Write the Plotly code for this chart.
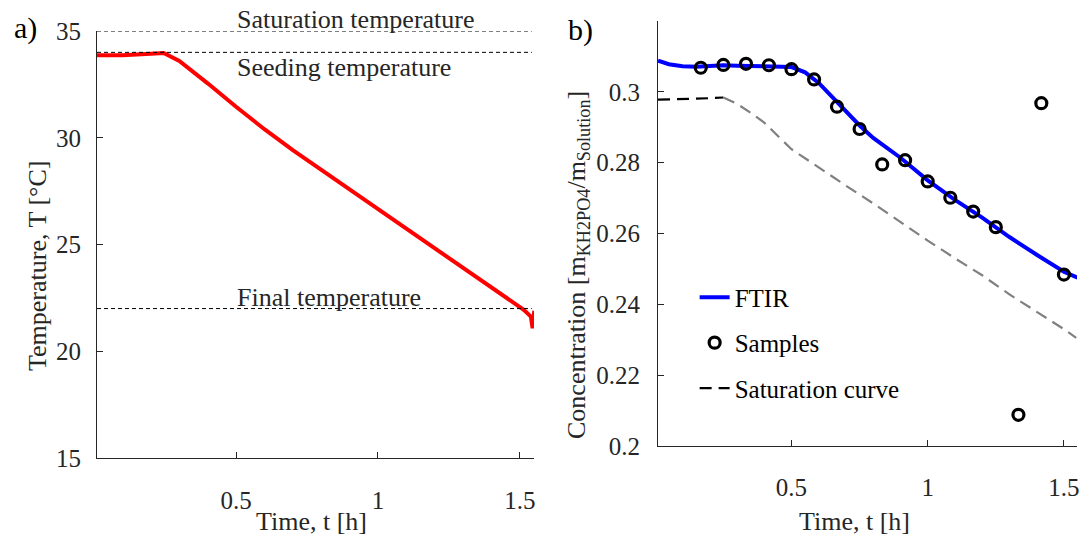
import plotly.graph_objects as go

# a) temperature profile, t [h] / T [°C]
temp_t = [0.01, 0.1, 0.2, 0.245, 0.3, 0.35, 0.4, 0.5, 0.6, 0.7, 0.8, 0.9, 1.0, 1.1,
          1.2, 1.3, 1.4, 1.48, 1.514, 1.539, 1.545, 1.551]
temp_T = [33.86, 33.87, 33.93, 33.97, 33.6, 33.1, 32.55, 31.45, 30.4, 29.42, 28.5, 27.58, 26.65, 25.72,
          24.8, 23.9, 23.0, 22.25, 21.94, 21.62, 21.08, 21.9]

ref_levels = [35, 34, 22]
ref_labels = ["Saturation temperature", "Seeding temperature", "Final temperature"]

# b) concentration
ftir_t = [0.01, 0.05, 0.1, 0.15, 0.2, 0.25, 0.3, 0.35, 0.4, 0.45, 0.5, 0.55, 0.6, 0.65, 0.7,
          0.75, 0.8, 0.9, 1.0, 1.1, 1.2, 1.3, 1.4, 1.5, 1.55]
ftir_c = [0.3088, 0.3078, 0.3072, 0.3071, 0.3073, 0.3075, 0.3074, 0.3073, 0.3074, 0.3073, 0.3070,
          0.3055, 0.3025, 0.2985, 0.2945, 0.2905, 0.2870, 0.2814, 0.2750, 0.2695, 0.2645, 0.2590,
          0.2540, 0.2492, 0.2475]

sample_t = [0.167, 0.25, 0.333, 0.417, 0.5, 0.583, 0.667, 0.75, 0.833, 0.917, 1.0, 1.083,
            1.167, 1.25, 1.333, 1.417, 1.5]
sample_c = [0.3068, 0.3076, 0.3079, 0.3075, 0.3064, 0.3035, 0.2958, 0.2895, 0.2795, 0.2807,
            0.2747, 0.2701, 0.2662, 0.2618, 0.2088, 0.2968, 0.2484]

sat_t = [0.01, 0.1, 0.15, 0.2, 0.25, 0.3, 0.35, 0.4, 0.5, 0.6, 0.7, 0.8, 0.9, 1.0, 1.1,
         1.2, 1.3, 1.4, 1.5, 1.545]
sat_c = [0.2978, 0.2979, 0.2981, 0.2982, 0.2984, 0.2966, 0.2941, 0.2913, 0.2838, 0.2786,
         0.2735, 0.2685, 0.2632, 0.2580, 0.2530, 0.2482, 0.2428, 0.2379, 0.2330, 0.2305]
sat_split = 5  # black part before the cooling ramp starts

FONT = "Liberation Serif"
TXT = "#262626"
FS = 25
W, H = 1083, 538

fig = go.Figure()

fig.add_trace(go.Scatter(x=temp_t, y=temp_T, mode="lines", line=dict(color="#ff0000", width=4),
                         xaxis="x", yaxis="y", showlegend=False))

fig.add_trace(go.Scatter(x=ftir_t, y=ftir_c, mode="lines", name="FTIR",
                         line=dict(color="#0000ff", width=4),
                         xaxis="x2", yaxis="y2", legendgroup="a"))
fig.add_trace(go.Scatter(x=sample_t, y=sample_c, mode="markers", name="Samples",
                         marker=dict(symbol="circle-open", size=11, color="black",
                                     line=dict(width=3.2, color="black")),
                         xaxis="x2", yaxis="y2", legendgroup="b"))
fig.add_trace(go.Scatter(x=sat_t[:sat_split], y=sat_c[:sat_split], mode="lines", name="Saturation curve",
                         line=dict(color="black", width=2.2, dash="12px,7px"),
                         xaxis="x2", yaxis="y2", legendgroup="c"))
fig.add_trace(go.Scatter(x=sat_t[sat_split - 1:], y=sat_c[sat_split - 1:], mode="lines",
                         line=dict(color="#808080", width=2.2, dash="12px,7px"),
                         xaxis="x2", yaxis="y2", showlegend=False))

# dashed reference temperatures with their labels
for lvl, lab in zip(ref_levels, ref_labels):
    fig.add_shape(type="line", xref="x domain", yref="y", x0=0, x1=0.995, y0=lvl, y1=lvl,
                  line=dict(color="black", width=1, dash="4px,3px"))
    below = lab.startswith("Seeding")
    fig.add_annotation(x=0.5, y=lvl, xref="x", yref="y", text=lab, showarrow=False,
                       xanchor="left", yanchor="top" if below else "bottom",
                       yshift=0 if below else -4, borderpad=0,
                       font=dict(family=FONT, size=26, color=TXT))

axis_common = dict(showline=True, linecolor=TXT, linewidth=1, ticks="inside", ticklen=6,
                   tickcolor=TXT, showgrid=False, zeroline=False, automargin=False,
                   tickfont=dict(family=FONT, size=FS, color=TXT))

fig.update_layout(
    width=W, height=H,
    margin=dict(l=0, r=0, t=0, b=0, autoexpand=False),
    paper_bgcolor="white", plot_bgcolor="white",
    xaxis=dict(domain=[97 / W, 534 / W], range=[0.01, 1.55], anchor="y",
               tickvals=[0.5, 1, 1.5], ticktext=["0.5", "1", "1.5"], ticklabelstandoff=20, **axis_common),
    yaxis=dict(domain=[(H - 458) / H, (H - 31) / H], range=[15, 35], anchor="x",
               tickvals=[15, 20, 25, 30, 35], ticklabelstandoff=10, **axis_common),
    xaxis2=dict(domain=[658 / W, 1077 / W], range=[0.01, 1.548], anchor="y2",
                tickvals=[0.5, 1, 1.5], ticktext=["0.5", "1", "1.5"], ticklabelstandoff=19, **axis_common),
    yaxis2=dict(domain=[(H - 446) / H, (H - 21) / H], range=[0.2, 0.32], anchor="x2",
                tickvals=[0.2, 0.22, 0.24, 0.26, 0.28, 0.3],
                ticktext=["0.2", "0.22", "0.24", "0.26", "0.28", "0.3"], ticklabelstandoff=12, **axis_common),
    legend=dict(x=0.6414, y=0.49, xanchor="left", yanchor="top", bgcolor="rgba(0,0,0,0)",
                font=dict(family=FONT, size=FS, color="black"), tracegroupgap=10),
)

titles = [
    ("a)", 25, 28, 0, 30),
    ("b)", 580, 30, 0, 30),
    ("Temperature, T [°C]", 37, 266, -90, 26),
    ("Time, t [h]", 311, 521, 0, 26),
    ("Concentration [m<sub>KH2PO4</sub>/m<sub>Solution</sub>]", 578, 265, -90, 26),
    ("Time, t [h]", 854, 521, 0, 26),
]
for txt, px, py, ang, sz in titles:
    fig.add_annotation(x=px / W, y=(H - py) / H, xref="paper", yref="paper", text=txt,
                       showarrow=False, textangle=ang, xanchor="center", yanchor="middle",
                       font=dict(family=FONT, size=sz, color="black" if sz == 30 else TXT))

# page body margin would shift the figure by 8px
fig.write_html("out.html", post_script="document.body.style.margin='0';",
               config={"displayModeBar": False})
